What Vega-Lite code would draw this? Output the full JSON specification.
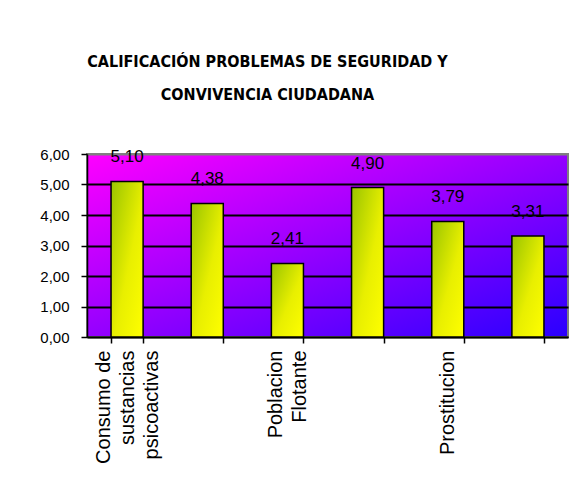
{
  "$schema": "https://vega.github.io/schema/vega-lite/v6.json",
  "width": 481,
  "height": 183,
  "autosize": {"type": "none"},
  "padding": {"left": 87, "top": 154, "right": 19, "bottom": 165},
  "background": "white",
  "config": {
    "locale": {"number": {"decimal": ",", "thousands": ".", "grouping": [3], "currency": ["$", ""]}},
    "font": "Liberation Sans",
    "view": {
      "stroke": "#808080",
      "strokeWidth": 2,
      "fill": {"gradient": "linear", "x1": 0, "y1": 0, "x2": 1, "y2": 1,
        "stops": [{"offset": 0, "color": "#ff00ff"}, {"offset": 1, "color": "#2a00ff"}]}
    }
  },
  "title": {
    "text": ["CALIFICACIÓN PROBLEMAS DE SEGURIDAD Y", "CONVIVENCIA CIUDADANA"],
    "font": "DejaVu Sans Condensed",
    "fontSize": 16,
    "fontWeight": "bold",
    "lineHeight": 33,
    "color": "black",
    "anchor": "middle",
    "dx": -60,
    "offset": 44
  },
  "data": {
    "values": [
      {"problema": "Consumo de|sustancias|psicoactivas", "calificacion": 5.10},
      {"problema": "Categoría 2", "calificacion": 4.38},
      {"problema": "Poblacion|Flotante", "calificacion": 2.41},
      {"problema": "Categoría 4", "calificacion": 4.90},
      {"problema": "Prostitucion", "calificacion": 3.79},
      {"problema": "Categoría 6", "calificacion": 3.31}
    ]
  },
  "encoding": {
    "x": {
      "field": "problema",
      "type": "nominal",
      "sort": null,
      "scale": {"paddingInner": 0.6, "paddingOuter": 0.3},
      "axis": {
        "title": null,
        "labelAngle": -90,
        "labelFontSize": 20,
        "labelLineHeight": 24,
        "labelColor": "black",
        "labelPadding": 7,
        "labelLimit": 0,
        "labelOverlap": false,
        "labelExpr": "indexof(datum.label, 'Categoría') == 0 ? '' : split(datum.label, '|')",
        "labelOffset": {"condition": [
          {"test": "indexof(datum.label, 'Consumo') == 0", "value": -24},
          {"test": "indexof(datum.label, 'Poblacion') == 0", "value": -12}
        ], "value": 0},
        "tickBand": "extent",
        "tickSize": 6,
        "tickColor": "black",
        "tickWidth": 1.5,
        "domainColor": "black",
        "domainWidth": 1.5
      }
    },
    "y": {
      "field": "calificacion",
      "type": "quantitative",
      "scale": {"domain": [0, 6]},
      "axis": {
        "title": null,
        "values": [0, 1, 2, 3, 4, 5, 6],
        "format": ".2f",
        "grid": true,
        "gridColor": {"condition": {"test": "datum.value == 6", "value": "#808080"}, "value": "black"},
        "gridWidth": 2,
        "gridOpacity": 1,
        "labelFontSize": 15,
        "labelColor": "black",
        "labelPadding": 12,
        "tickSize": 6,
        "tickColor": "black",
        "tickWidth": 1.5,
        "domainColor": "black",
        "domainWidth": 1.5
      }
    }
  },
  "layer": [
    {
      "mark": {
        "type": "bar",
        "stroke": "black",
        "strokeWidth": 1.5,
        "fill": {"gradient": "linear", "x1": 0, "y1": 0, "x2": 1, "y2": 1,
          "stops": [{"offset": 0, "color": "#99c400"}, {"offset": 0.55, "color": "#e8ef00"}, {"offset": 1, "color": "#ffff00"}]}
      }
    },
    {
      "mark": {"type": "text", "baseline": "alphabetic", "dy": -19, "fontSize": 17, "color": "black"},
      "encoding": {"text": {"field": "calificacion", "type": "quantitative", "format": ".2f"}}
    }
  ]
}
